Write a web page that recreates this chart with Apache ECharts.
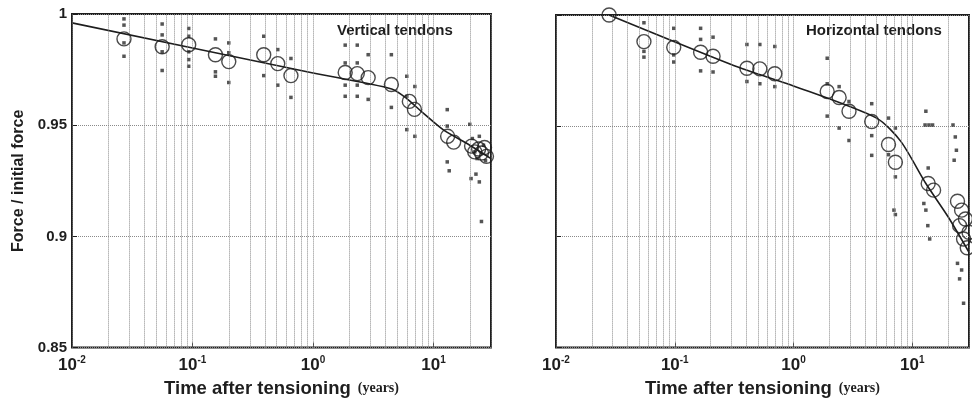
<!DOCTYPE html>
<html>
<head>
<meta charset="utf-8">
<script src="https://cdn.jsdelivr.net/npm/echarts@6/dist/echarts.min.js"></script>
<style>
html, body { margin: 0; padding: 0; background: #fff; overflow: hidden; }
#chart { width: 972px; height: 403px; }
</style>
</head>
<body>
<div id="chart"></div>
<script>
// vertical tendons: mean values (circles)
var vertMeanT = [0.027, 0.056, 0.093, 0.155, 0.2, 0.39, 0.51, 0.656, 1.85, 2.33, 2.87, 4.47, 6.3, 6.95, 13.1, 14.7, 20.7, 22, 23.7, 25, 26.5, 27.5];
var vertMeanF = [0.9888, 0.9853, 0.9862, 0.9817, 0.9786, 0.9817, 0.9777, 0.9723, 0.9737, 0.9732, 0.9714, 0.9683, 0.9607, 0.9571, 0.945, 0.9424, 0.9406, 0.938, 0.9393, 0.9375, 0.940, 0.936];

// vertical tendons: single readings (small marks)
var vertPtT = [0.027, 0.027, 0.027, 0.027, 0.056, 0.056, 0.056, 0.056, 0.093, 0.093, 0.093, 0.093, 0.093,
  0.155, 0.155, 0.155, 0.2, 0.2, 0.2, 0.39, 0.39, 0.51, 0.51, 0.656, 0.656,
  1.85, 1.85, 1.85, 1.85, 2.33, 2.33, 2.33, 2.33, 2.87, 2.87, 4.47, 4.47,
  6.0, 6.0, 6.0, 7.0, 7.0, 13, 13, 13, 13.5, 20, 20.5, 24, 24, 25, 21, 22, 23, 26, 27, 22.5];
var vertPtF = [0.9978, 0.995, 0.987, 0.981, 0.9955, 0.9906, 0.983, 0.9746, 0.9935, 0.990, 0.983, 0.9795, 0.9765,
  0.9888, 0.974, 0.972, 0.987, 0.9826, 0.9692, 0.990, 0.9723, 0.984, 0.968, 0.980, 0.9625,
  0.986, 0.978, 0.968, 0.963, 0.986, 0.978, 0.968, 0.963, 0.9817, 0.9616, 0.9817, 0.958,
  0.972, 0.963, 0.948, 0.9674, 0.945, 0.957, 0.9496, 0.9335, 0.9295, 0.9504, 0.926, 0.945, 0.9245, 0.9067, 0.944, 0.938, 0.935, 0.941, 0.934, 0.928];

// vertical tendons: fitted curve
var vertFitT = [0.01, 1, 4.5, 6, 8, 12, 20, 30];
var vertFitF = [0.996, 0.9735, 0.9663, 0.962, 0.956, 0.948, 0.941, 0.935];

// horizontal tendons: mean values (circles)
var horMeanT = [0.028, 0.055, 0.098, 0.165, 0.21, 0.405, 0.52, 0.695, 1.92, 2.42, 2.93, 4.55, 6.3, 7.2, 13.6, 15.1, 24, 26, 25, 28, 27, 29, 30];
var horMeanF = [1.0, 0.988, 0.9854, 0.9832, 0.9814, 0.976, 0.9757, 0.9735, 0.9655, 0.9628, 0.9566, 0.952, 0.9416, 0.9336, 0.924, 0.921, 0.916, 0.912, 0.905, 0.908, 0.899, 0.895, 0.902];

// horizontal tendons: single readings (small marks)
var horPtT = [0.055, 0.055, 0.055, 0.098, 0.098, 0.098, 0.165, 0.165, 0.165, 0.21, 0.21,
  0.405, 0.405, 0.52, 0.52, 0.695, 0.695, 1.92, 1.92, 1.92, 2.42, 2.42, 2.93, 2.93,
  4.55, 4.55, 4.55, 6.3, 6.3, 7.2, 7.2, 13.6, 13, 12.8, 13.8, 14.8, 13, 13.5, 14, 12.5,
  22, 23, 23.5, 22.5, 24, 25, 27, 26, 7.0, 7.2];
var horPtF = [0.9965, 0.9836, 0.981, 0.994, 0.9788, 0.982, 0.994, 0.989, 0.9748, 0.990, 0.9743,
  0.9867, 0.970, 0.9867, 0.969, 0.9858, 0.9677, 0.9805, 0.969, 0.9544, 0.9677, 0.949, 0.961, 0.9434,
  0.960, 0.9456, 0.9367, 0.9535, 0.937, 0.949, 0.927, 0.931, 0.9566, 0.9504, 0.9504, 0.9504, 0.912, 0.905, 0.899, 0.915,
  0.9504, 0.945, 0.939, 0.9345, 0.888, 0.881, 0.870, 0.885, 0.912, 0.910];

// horizontal tendons: fitted curve
var horFitT = [0.028, 0.34, 1, 5, 8, 13, 20, 30];
var horFitF = [1.0, 0.9765, 0.968, 0.9535, 0.943, 0.924, 0.909, 0.893];

var yTicks = [0.85, 0.9, 0.95, 1];

// dotted log grid lines: 1..9 x each decade
var gridT = [];
for (var d = -2; d <= 1; d++) {
  for (var k = 1; k <= 9; k++) {
    var v = k * Math.pow(10, d);
    if (v <= 30) gridT.push(+v.toPrecision(3));
  }
}

function zip(a, b) {
  var out = [];
  for (var i = 0; i < a.length; i++) out.push([a[i], b[i]]);
  return out;
}

var font = '"Liberation Sans", Arial, sans-serif';
var ink = '#1e1e1e';

function xAxisFor(gi) {
  return {
    type: 'log', logBase: 10, gridIndex: gi, min: 0.01, max: 30,
    axisLine: { show: false },
    axisTick: { inside: true, length: 5, lineStyle: { color: ink, width: 1 } },
    splitLine: { show: false },
    axisLabel: {
      margin: 8,
      formatter: function (v) {
        var e = Math.round(Math.log10(v));
        if (Math.abs(Math.log10(v) - e) > 0.01) return '';
        return '{b|10}{s|' + e + '}';
      },
      rich: {
        b: { fontFamily: font, fontWeight: 'bold', fontSize: 17, color: ink, lineHeight: 20 },
        s: { fontFamily: font, fontWeight: 'bold', fontSize: 10, color: ink, verticalAlign: 'top', lineHeight: 12 }
      }
    },
    name: '{a|Time after tensioning}{y|  (years)}',
    nameLocation: 'middle',
    nameGap: 23,
    nameTextStyle: {
      rich: {
        a: { fontFamily: font, fontWeight: 'bold', fontSize: 18.5, color: ink },
        y: { fontFamily: '"Liberation Serif", serif', fontWeight: 'bold', fontSize: 14, color: ink }
      }
    }
  };
}

function yAxisFor(gi, labels) {
  return {
    type: 'value', gridIndex: gi, min: yTicks[0], max: yTicks[yTicks.length - 1], interval: 0.05,
    axisLine: { show: false },
    axisTick: { show: true, inside: true, length: 5, lineStyle: { color: ink } },
    splitLine: { show: true, lineStyle: { type: 'dotted', color: '#8a8a8a', width: 1 } },
    axisLabel: {
      show: labels, margin: 5, fontFamily: font, fontWeight: 'bold', fontSize: 15, color: ink
    },
    name: labels ? 'Force / initial force' : '',
    nameLocation: 'middle',
    nameRotate: 90,
    nameGap: 45,
    nameTextStyle: { fontFamily: font, fontWeight: 'bold', fontSize: 16, color: ink }
  };
}

function seriesFor(gi, meanT, meanF, ptT, ptF, fitT, fitF) {
  return [
    {
      type: 'scatter', xAxisIndex: gi, yAxisIndex: gi, data: [], silent: true,
      markLine: {
        silent: true, symbol: 'none', label: { show: false },
        lineStyle: { type: 'dotted', color: '#8a8a8a', width: 1 },
        data: gridT.map(function (t) { return { xAxis: t }; })
      }
    },
    {
      type: 'line', xAxisIndex: gi, yAxisIndex: gi, data: zip(fitT, fitF),
      smooth: 0.25, showSymbol: false, lineStyle: { color: ink, width: 1.6 }, z: 3
    },
    {
      type: 'scatter', xAxisIndex: gi, yAxisIndex: gi, data: zip(ptT, ptF),
      symbol: 'rect', symbolSize: 3.5, itemStyle: { color: '#2a2a2a' }, z: 4
    },
    {
      type: 'scatter', xAxisIndex: gi, yAxisIndex: gi, data: zip(meanT, meanF),
      symbol: 'circle', symbolSize: 14,
      itemStyle: { color: 'rgba(255,255,255,0)', borderColor: ink, borderWidth: 1.4 }, z: 5
    }
  ];
}

var chart = echarts.init(document.getElementById('chart'), null, { renderer: 'canvas' });
chart.setOption({
  backgroundColor: '#fff',
  animation: false,
  grid: [
    { left: 72, top: 14, width: 419, height: 337, show: true, borderColor: ink, borderWidth: 2, backgroundColor: '#fff' },
    { left: 556, top: 15, width: 420, height: 338, show: true, borderColor: ink, borderWidth: 2, backgroundColor: '#fff' }
  ],
  xAxis: [xAxisFor(0), xAxisFor(1)],
  yAxis: [yAxisFor(0, true), yAxisFor(1, false)],
  graphic: [
    { type: 'text', left: 337, top: 23, style: { text: 'Vertical tendons', font: 'bold 15px ' + font, fill: ink } },
    { type: 'text', left: 806, top: 23, style: { text: 'Horizontal tendons', font: 'bold 15px ' + font, fill: ink } }
  ],
  series: []
    .concat(seriesFor(0, vertMeanT, vertMeanF, vertPtT, vertPtF, vertFitT, vertFitF))
    .concat(seriesFor(1, horMeanT, horMeanF, horPtT, horPtF, horFitT, horFitF))
});
</script>
</body>
</html>
